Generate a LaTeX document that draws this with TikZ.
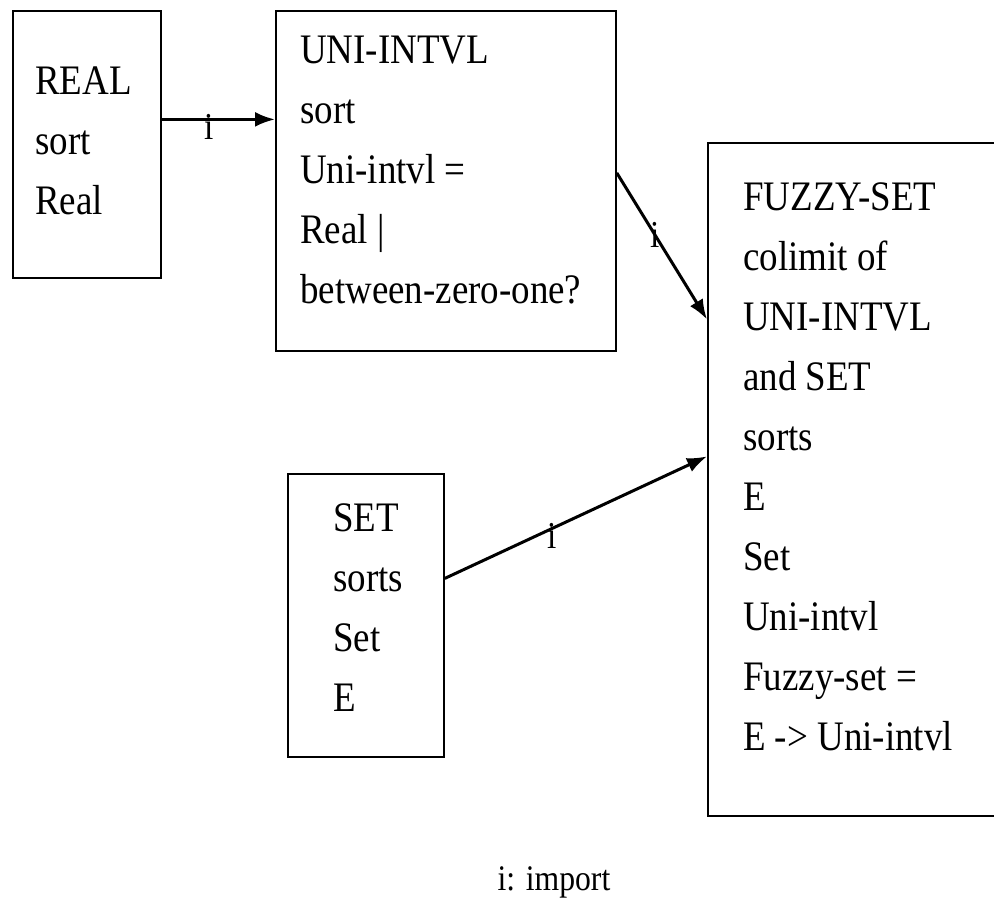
\documentclass[tikz,border=0pt]{standalone}
\usepackage{fontspec}
\setmainfont{Liberation Serif}[FakeStretch=0.88]
\usetikzlibrary{arrows.meta, positioning, calc}

\begin{document}
\begin{tikzpicture}[x=1pt, y=-1pt,
  box/.style={draw, line width=1.8pt, anchor=north west, inner sep=0pt},
  txt/.style={inner sep=0pt, align=left, font=\fontsize{42pt}{60pt}\selectfont},
  imp/.style={line width=3pt, -{Latex[length=20pt, width=15pt]}},
  lbl/.style={inner sep=0pt, font=\fontsize{38pt}{44pt}\selectfont}]

  % Page
  \useasboundingbox (0,0) rectangle (994,913);
  \clip (0,0) rectangle (994,913);

  % --- Specifications ---
  \node[box, minimum width=148pt, minimum height=267pt] (real) at (12,10) {};
  \node[box, minimum width=340pt, minimum height=340pt] (uni) at (275,10) {};
  \node[box, minimum width=320pt, minimum height=673pt] (fuzzy) at (707,142) {};
  \node[box, minimum width=156pt, minimum height=283pt] (set) at (287,473) {};

  \node[txt, below right=57pt and 23pt of real.north west] (realtxt) {REAL\\sort\\Real};
  \node[txt, below right=26pt and 25pt of uni.north west] (unitxt)
    {UNI-INTVL\\sort\\Uni-intvl =\\Real |\\between-zero-one?};
  \node[txt, below right=40pt and 36pt of fuzzy.north west] (fuzzytxt)
    {FUZZY-SET\\colimit of\\UNI-INTVL\\and SET\\sorts\\E\\Set\\Uni-intvl\\Fuzzy-set =\\E -> Uni-intvl};
  \node[txt, below right=30pt and 46pt of set.north west] (settxt) {SET\\sorts\\Set\\E};

  % --- Imports ---
  \draw[imp] ([yshift=25pt]real.east) -- ([yshift=25pt]real.east -| uni.west)
    node[lbl, pos=.42, anchor=north, yshift=7pt] (i1) {i};
  \draw[imp] ([yshift=8pt]uni.east) -- ([yshift=160pt]fuzzy.west)
    node[lbl, pos=.42] (i2) {i};
  \draw[imp] ([yshift=37pt]set.east) -- ([yshift=23pt]fuzzy.west)
    node[lbl, pos=.41, anchor=north, yshift=7pt] (i3) {i};

  % Key
  \node[lbl, anchor=base, font=\fontsize{36pt}{44pt}\selectfont] (key) at (554,890) {i: import};

\end{tikzpicture}
\end{document}
